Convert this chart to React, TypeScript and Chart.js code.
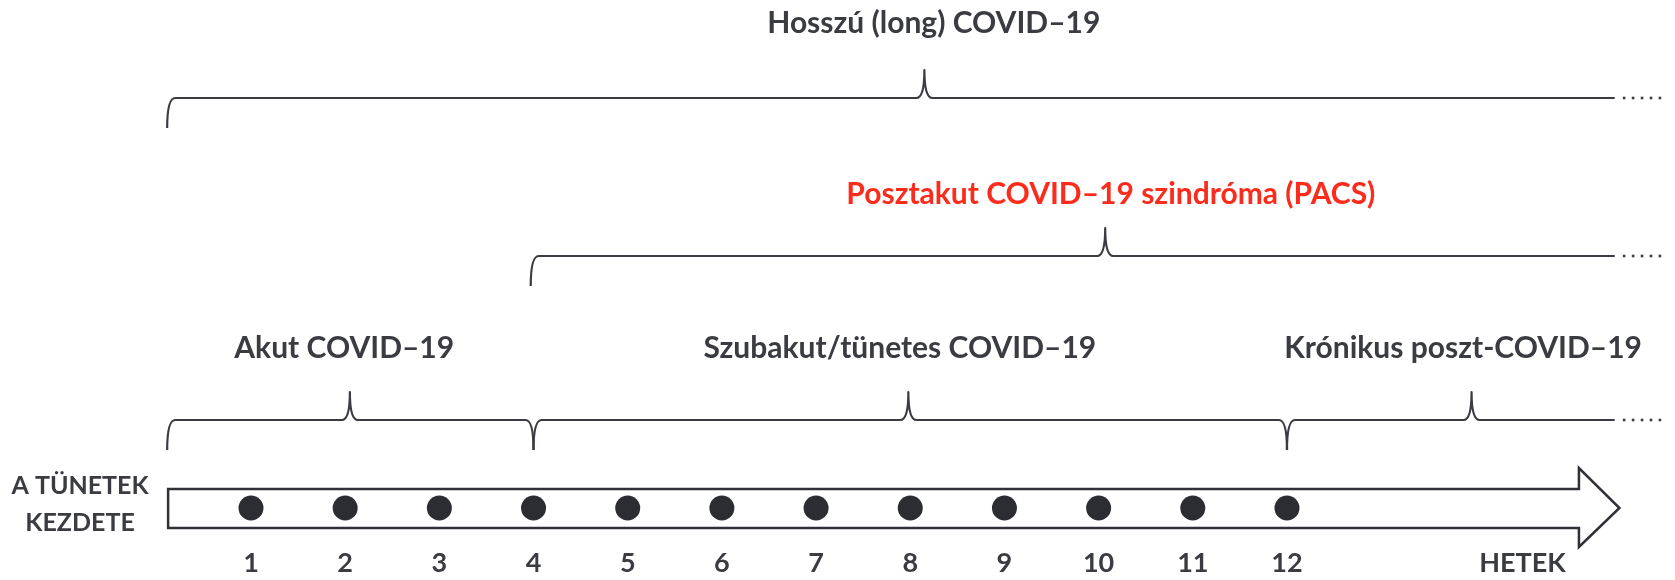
import React, { useEffect, useRef } from "react";
import { Chart, registerables } from "chart.js";

Chart.register(...registerables);

// ---------- data ----------
const weeks = [1, 2, 3, 4, 5, 6, 7, 8, 9, 10, 11, 12];
const weekLabels = ["1", "2", "3", "4", "5", "6", "7", "8", "9", "10", "11", "12"];
const axisTitle = "HETEK";
const onsetLabel = ["A TÜNETEK", "KEZDETE"];

const phaseLabels = [
  "Hosszú (long) COVID–19",
  "Posztakut COVID–19 szindróma (PACS)",
  "Akut COVID–19",
  "Szubakut/tünetes COVID–19",
  "Krónikus poszt-COVID–19",
];
const phaseStart = [0.11, 3.97, 0.11, 4, 12];
const phaseEnd: (number | null)[] = [null, null, 4, 12, null]; // null = open ended (…)
const phaseCusp = [8.15, 10.07, 2.05, 7.98, 13.96];
const phaseLabelAt = [8.25, 10.13, 1.99, 7.89, 13.87];
const phaseRow = [0, 1, 2, 2, 2];
const phaseHighlight = [false, true, false, false, false];

// ---------- layout ----------
const X_MIN = -1.665;
const X_MAX = 16.12;
const ROW_LABEL_Y = [23, 194, 348];
const ROW_LINE_Y = [98, 256, 420];
const HOOK_H = 30;
const CUSP_H = 28;
const OPEN_END = 15.48;
const DOTS_FROM = 15.58;
const DOTS_TO = 15.96;
const ARROW_START = 0.12;
const ARROW_HEAD = 15.1;
const ARROW_TIP = 15.53;
const ARROW_TOP = 489;
const ARROW_BOT = 528;
const HEAD_TOP = 468;
const HEAD_BOT = 547;
const ARROW_MID = 508;
const TICK_Y = 563;
const AXIS_TITLE_X = 14.5;
const ONSET_X = -0.815;
const ONSET_Y = [486, 523];

const INK = "#3a3c42";
const TEXT = "#3a3c42";
const RED = "#fb2c1c";
const FONT = "Lato, 'Open Sans', sans-serif";

const diagramPlugin = {
  id: "diagram",
  beforeDatasetsDraw(chart: any) {
    const ctx = chart.ctx as CanvasRenderingContext2D;
    const xs = chart.scales.x;
    const ys = chart.scales.y;
    const px = (v: number) => xs.getPixelForValue(v);
    const py = (v: number) => ys.getPixelForValue(v);
    ctx.save();

    // arrow
    ctx.beginPath();
    ctx.moveTo(px(ARROW_START), py(ARROW_TOP));
    ctx.lineTo(px(ARROW_HEAD), py(ARROW_TOP));
    ctx.lineTo(px(ARROW_HEAD), py(HEAD_TOP));
    ctx.lineTo(px(ARROW_TIP), py(ARROW_MID));
    ctx.lineTo(px(ARROW_HEAD), py(HEAD_BOT));
    ctx.lineTo(px(ARROW_HEAD), py(ARROW_BOT));
    ctx.lineTo(px(ARROW_START), py(ARROW_BOT));
    ctx.closePath();
    ctx.fillStyle = "#ffffff";
    ctx.fill();
    ctx.lineWidth = 2.5;
    ctx.strokeStyle = "#2f3136";
    ctx.lineJoin = "miter";
    ctx.stroke();

    // brackets
    ctx.strokeStyle = INK;
    ctx.lineWidth = 2.2;
    ctx.lineJoin = "round";
    const w = 8;
    for (let i = 0; i < phaseLabels.length; i++) {
      const row = phaseRow[i];
      const yl = py(ROW_LINE_Y[row]);
      const x0 = px(phaseStart[i]);
      const xc = px(phaseCusp[i]);
      const end = phaseEnd[i];
      ctx.beginPath();
      ctx.moveTo(x0, yl + HOOK_H);
      ctx.quadraticCurveTo(x0, yl, x0 + w, yl);
      ctx.lineTo(xc - w, yl);
      ctx.quadraticCurveTo(xc, yl, xc, yl - CUSP_H);
      ctx.quadraticCurveTo(xc, yl, xc + w, yl);
      if (end === null) {
        ctx.lineTo(px(OPEN_END), yl);
      } else {
        const xe = px(end);
        ctx.lineTo(xe - w, yl);
        ctx.quadraticCurveTo(xe, yl, xe, yl + HOOK_H);
      }
      ctx.stroke();
      if (end === null) {
        const a = px(DOTS_FROM);
        const b = px(DOTS_TO);
        ctx.fillStyle = INK;
        for (let k = 0; k < 5; k++) {
          const dx = a + ((b - a) * k) / 4;
          ctx.fillRect(dx - 1.3, yl - 1.3, 2.6, 2.6);
        }
      }
      // label
      ctx.fillStyle = phaseHighlight[i] ? RED : TEXT;
      ctx.font = `bold 30px ${FONT}`;
      ctx.textAlign = "center";
      ctx.textBaseline = "middle";
      ctx.fillText(phaseLabels[i], px(phaseLabelAt[i]), py(ROW_LABEL_Y[row]));
    }

    // tick labels
    ctx.fillStyle = TEXT;
    ctx.font = `bold 27px ${FONT}`;
    ctx.textAlign = "center";
    ctx.textBaseline = "middle";
    weeks.forEach((wk, i) => ctx.fillText(weekLabels[i], px(wk), py(TICK_Y)));
    ctx.fillText(axisTitle, px(AXIS_TITLE_X), py(TICK_Y));

    ctx.font = `bold 25px ${FONT}`;
    onsetLabel.forEach((t, i) => ctx.fillText(t, px(ONSET_X), py(ONSET_Y[i])));
    ctx.restore();
  },
};

export default function App() {
  const ref = useRef<HTMLCanvasElement | null>(null);
  useEffect(() => {
    if (!ref.current) return;
    const chart = new Chart(ref.current, {
      type: "scatter",
      data: {
        datasets: [
          {
            label: "Hetek",
            data: weeks.map((wk) => ({ x: wk, y: ARROW_MID })),
            pointRadius: 12.5,
            pointHoverRadius: 12.5,
            backgroundColor: "#2b2d33",
            borderWidth: 0,
            clip: false,
          },
        ],
      },
      options: {
        animation: false,
        responsive: true,
        maintainAspectRatio: false,
        layout: { padding: 0, autoPadding: false },
        plugins: { legend: { display: false }, tooltip: { enabled: false } },
        scales: {
          x: { type: "linear", min: X_MIN, max: X_MAX, display: false },
          y: { type: "linear", min: 0, max: 580, reverse: true, display: false },
        },
      },
      plugins: [diagramPlugin],
    });
    return () => chart.destroy();
  }, []);
  return (
    <div style={{ position: "absolute", left: 0, top: 0, width: 1675, height: 580, background: "#fff" }}>
      <canvas ref={ref} />
    </div>
  );
}
